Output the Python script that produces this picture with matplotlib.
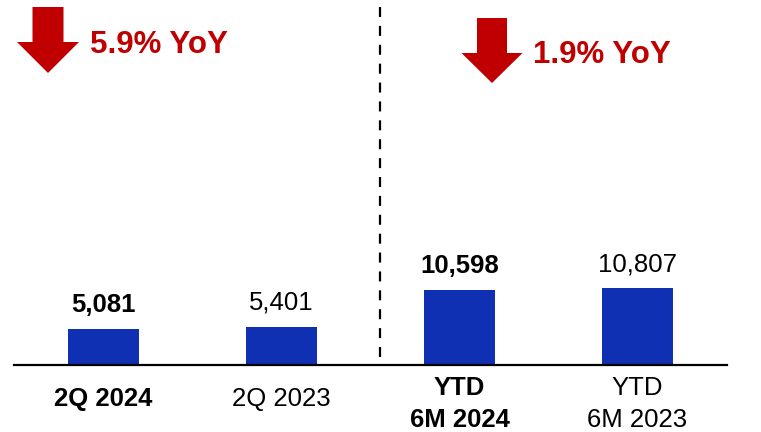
import numpy as np
import matplotlib.pyplot as plt
from matplotlib.patches import Polygon

plt.rcParams['font.family'] = ['Liberation Sans', 'DejaVu Sans']

# revenue by period
categories = ['2Q 2024', '2Q 2023', 'YTD\n6M 2024', 'YTD\n6M 2023']
values = [5081, 5401, 10598, 10807]
bold = [True, False, True, False]
yoy_labels = ['5.9% YoY', '1.9% YoY']

bar_color = '#1030B4'
red = '#C00000'

fig = plt.figure(figsize=(7.61, 4.32), dpi=100)
ax = fig.add_axes([14 / 761, 67 / 432, 713 / 761, 365 / 432])

x = np.arange(len(values))
ax.bar(x, values, width=0.4, color=bar_color)
ax.set_xlim(-0.503, 3.503)
ax.set_ylim(0, 51550)

for xi, v, b in zip(x, values, bold):
    ax.annotate(f'{v:,}', (xi, v), xytext=(0, 8.5), textcoords='offset points',
                ha='center', va='bottom', fontsize=18.5,
                fontweight='bold' if b else 'normal')

# category labels under the baseline, centred vertically
for xi, c, b in zip(x, categories, bold):
    off = -28 if '\n' in c else -24.5
    ax.annotate(c, (xi, 0), xytext=(0, off), textcoords='offset points',
                ha='center', va='center', fontsize=18.5, linespacing=1.42,
                fontweight='bold' if b else 'normal', annotation_clip=False)

ax.set_xticks([])
ax.set_yticks([])
for s in ['top', 'right', 'left']:
    ax.spines[s].set_visible(False)
ax.spines['bottom'].set_linewidth(1.6)

# divider between quarter and half-year
ax.plot([1.553, 1.553], [1100, 50700], color='black', lw=1.6, ls=(0, (4.5, 4)))

# down arrows with YoY change, drawn in figure pixels
def down_arrow(cx, top, shaft_w, head_w, head_top, tip):
    H = 432
    pts = [(cx - shaft_w / 2, top), (cx + shaft_w / 2, top),
           (cx + shaft_w / 2, head_top), (cx + head_w / 2, head_top),
           (cx, tip), (cx - head_w / 2, head_top),
           (cx - shaft_w / 2, head_top)]
    pts = [(px / 761, (H - py) / H) for px, py in pts]
    fig.add_artist(Polygon(pts, closed=True, color=red, transform=fig.transFigure, lw=0))

down_arrow(48, 7, 31, 62, 42, 73)
down_arrow(492, 18, 30, 61, 53, 83)

fig.text(90 / 761, 1 - 45 / 432, yoy_labels[0], color=red, fontsize=22.5,
         fontweight='bold', va='center', ha='left')
fig.text(533 / 761, 1 - 55 / 432, yoy_labels[1], color=red, fontsize=22.5,
         fontweight='bold', va='center', ha='left')

fig.savefig('out.png', dpi=100)
